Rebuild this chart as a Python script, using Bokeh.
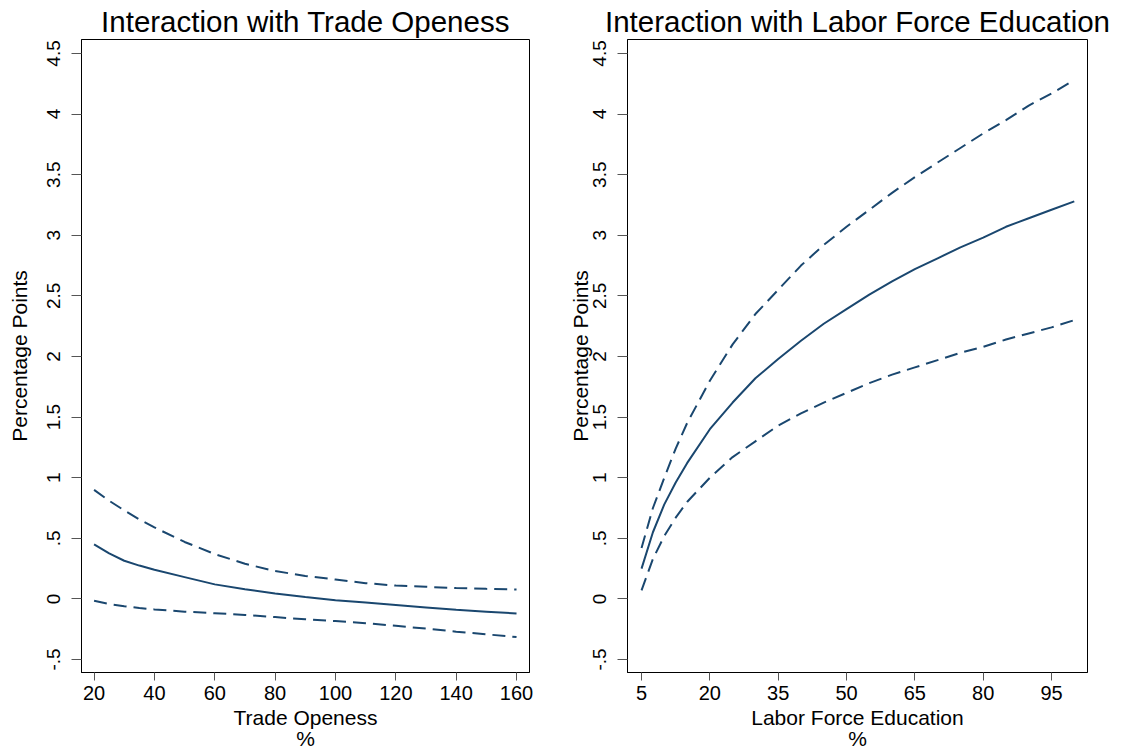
from bokeh.plotting import figure
from bokeh.layouts import row
from bokeh.models import FixedTicker, Range1d
from bokeh.embed import file_html
from bokeh.resources import INLINE

# ---------------- data ----------------
trade_x = [20, 25, 30, 35, 40, 50, 60, 70, 80, 90, 100, 110, 120, 130, 140, 150, 160]
trade_est = [0.45, 0.375, 0.315, 0.275, 0.24, 0.18, 0.12, 0.08, 0.045, 0.015, -0.01, -0.03, -0.05, -0.07, -0.09, -0.105, -0.12]
trade_hi = [0.90, 0.81, 0.73, 0.655, 0.59, 0.47, 0.37, 0.29, 0.23, 0.19, 0.16, 0.13, 0.11, 0.10, 0.09, 0.083, 0.077]
trade_lo = [-0.015, -0.042, -0.06, -0.075, -0.087, -0.105, -0.118, -0.132, -0.15, -0.168, -0.183, -0.20, -0.222, -0.245, -0.27, -0.292, -0.315]

edu_x = [5, 7.5, 10, 12.5, 15, 20, 25, 30, 35, 40, 45, 50, 55, 60, 65, 70, 75, 80, 85, 90, 95, 100]
edu_est = [0.25, 0.55, 0.78, 0.96, 1.12, 1.40, 1.62, 1.82, 1.98, 2.13, 2.27, 2.39, 2.51, 2.62, 2.72, 2.81, 2.90, 2.98, 3.07, 3.14, 3.21, 3.28]
edu_hi = [0.42, 0.75, 1.00, 1.24, 1.45, 1.80, 2.10, 2.35, 2.55, 2.75, 2.92, 3.07, 3.21, 3.35, 3.48, 3.60, 3.72, 3.84, 3.95, 4.07, 4.17, 4.28]
edu_lo = [0.07, 0.33, 0.52, 0.67, 0.80, 1.00, 1.17, 1.30, 1.43, 1.53, 1.62, 1.70, 1.78, 1.85, 1.91, 1.97, 2.03, 2.08, 2.14, 2.19, 2.24, 2.30]

y_ticks = [-0.5, 0, 0.5, 1, 1.5, 2, 2.5, 3, 3.5, 4, 4.5]
y_tick_labels = ["-.5", "0", ".5", "1", "1.5", "2", "2.5", "3", "3.5", "4", "4.5"]
trade_ticks = [20, 40, 60, 80, 100, 120, 140, 160]
edu_ticks = [5, 20, 35, 50, 65, 80, 95]

titles = ["Interaction with Trade Openess", "Interaction with Labor Force Education"]
x_labels = ["Trade Openess\n%", "Labor Force Education\n%"]
y_label = "Percentage Points"

NAVY = "#1a476f"
FONT = "Liberation Sans"


def make_panel(title, xs, est, hi, lo, xticks, xlabel, xr, width, bl, br, ylab_standoff):
    p = figure(width=width, height=753, output_backend="svg", toolbar_location=None,
               x_range=Range1d(*xr), y_range=Range1d(-0.607, 4.615),
               min_border_left=bl, min_border_right=br, min_border_top=39, min_border_bottom=81)
    p.background_fill_color = "white"
    p.border_fill_color = "white"
    p.outline_line_color = "black"
    p.outline_line_width = 1
    p.xgrid.visible = False
    p.ygrid.visible = False

    p.title.text = title
    p.title.align = "center"
    p.title.text_font = FONT
    p.title.text_font_size = "29.5px"
    p.title.text_font_style = "normal"
    p.title.text_color = "black"
    p.title.text_line_height = 1.0
    p.title.standoff = 4
    p.title.offset = 0

    for ax in (p.xaxis[0], p.yaxis[0]):
        ax.axis_line_color = "black"
        ax.major_tick_line_color = "#555555"
        ax.major_tick_in = 0
        ax.minor_tick_line_color = None
        ax.major_label_text_font = FONT
        ax.major_label_text_color = "black"
        ax.major_label_text_line_height = 1.0
        ax.axis_label_text_font = FONT
        ax.axis_label_text_font_size = "21px"
        ax.axis_label_text_font_style = "normal"
        ax.axis_label_text_color = "black"
        ax.axis_label_text_line_height = 0.95

    p.xaxis.ticker = FixedTicker(ticks=xticks)
    p.xaxis.major_label_text_font_size = "20px"
    p.xaxis.major_tick_out = 8
    p.xaxis.major_label_standoff = 5
    p.xaxis.axis_label = xlabel
    p.xaxis.axis_label_standoff = 3

    p.yaxis.ticker = FixedTicker(ticks=y_ticks)
    p.yaxis.major_label_overrides = {t: l for t, l in zip(y_ticks, y_tick_labels)}
    p.yaxis.major_label_orientation = "vertical"
    p.yaxis.major_label_text_font_size = "19px"
    p.yaxis.major_tick_out = 10
    p.yaxis.major_label_standoff = 11
    p.yaxis.axis_label = y_label
    p.yaxis.axis_label_standoff = ylab_standoff

    p.line(xs, hi, line_color=NAVY, line_width=2, line_dash="13 7")
    p.line(xs, lo, line_color=NAVY, line_width=2, line_dash="13 7")
    p.line(xs, est, line_color=NAVY, line_width=2)
    return p


left = make_panel(titles[0], trade_x, trade_est, trade_hi, trade_lo, trade_ticks, x_labels[0],
                  (15.83, 164.3), 564, 81, 35, 14)
right = make_panel(titles[1], edu_x, edu_est, edu_hi, edu_lo, edu_ticks, x_labels[1],
                   (1.92, 102.9), 557, 63, 34, -1)

layout = row(left, right)
open("out.html", "w").write(file_html(layout, INLINE))
